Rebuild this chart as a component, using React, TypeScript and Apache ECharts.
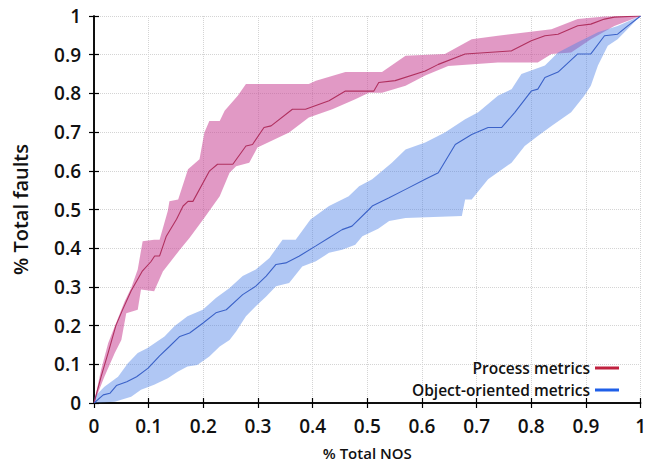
import React, { useEffect, useRef } from "react";
import * as echarts from "echarts";

const processMean: number[][] = [
  [0, 0], [0.013, 0.068], [0.026, 0.13], [0.04, 0.2], [0.052, 0.24], [0.068, 0.29], [0.088, 0.34],
  [0.104, 0.365], [0.111, 0.38], [0.12, 0.38], [0.132, 0.43], [0.151, 0.475], [0.163, 0.509],
  [0.172, 0.521], [0.181, 0.521], [0.211, 0.599], [0.226, 0.617], [0.254, 0.617], [0.278, 0.664],
  [0.29, 0.668], [0.311, 0.712], [0.324, 0.716], [0.363, 0.759], [0.387, 0.759], [0.43, 0.781],
  [0.46, 0.806], [0.512, 0.806], [0.521, 0.828], [0.551, 0.833], [0.606, 0.858], [0.63, 0.875],
  [0.679, 0.902], [0.764, 0.91], [0.8, 0.936], [0.825, 0.949], [0.849, 0.953], [0.885, 0.975],
  [0.909, 0.979], [0.934, 0.992], [0.952, 0.997], [1, 1],
];

const processUpper: number[][] = [
  [0, 0], [0.013, 0.086], [0.026, 0.155], [0.038, 0.198], [0.05, 0.241], [0.056, 0.262], [0.068, 0.297],
  [0.08, 0.345], [0.089, 0.418], [0.11, 0.422], [0.12, 0.422], [0.135, 0.496], [0.138, 0.521],
  [0.154, 0.526], [0.172, 0.604], [0.193, 0.63], [0.202, 0.699], [0.211, 0.729], [0.23, 0.729],
  [0.239, 0.755], [0.263, 0.794], [0.278, 0.824], [0.393, 0.824], [0.406, 0.833], [0.46, 0.855],
  [0.527, 0.855], [0.57, 0.897], [0.642, 0.902], [0.691, 0.94], [0.739, 0.949], [0.837, 0.966],
  [0.885, 0.992], [0.934, 0.999], [1, 1],
];

const processLower: number[][] = [
  [0, 0], [0.019, 0.068], [0.038, 0.129], [0.05, 0.163], [0.059, 0.232], [0.08, 0.241], [0.086, 0.293],
  [0.11, 0.289], [0.126, 0.34], [0.157, 0.396], [0.175, 0.427], [0.202, 0.479], [0.23, 0.534],
  [0.248, 0.595], [0.26, 0.612], [0.284, 0.621], [0.299, 0.66], [0.357, 0.699], [0.393, 0.738],
  [0.436, 0.759], [0.478, 0.785], [0.503, 0.802], [0.527, 0.802], [0.57, 0.82], [0.606, 0.846],
  [0.648, 0.871], [0.739, 0.88], [0.812, 0.88], [0.837, 0.902], [0.873, 0.906], [0.909, 0.94],
  [0.952, 0.974], [1, 1],
];

const ooMean: number[][] = [
  [0, 0], [0.017, 0.021], [0.029, 0.025], [0.041, 0.045], [0.06, 0.055], [0.078, 0.068], [0.099, 0.09],
  [0.12, 0.122], [0.138, 0.146], [0.157, 0.172], [0.175, 0.181], [0.199, 0.206], [0.223, 0.233],
  [0.242, 0.241], [0.272, 0.28], [0.296, 0.302], [0.315, 0.328], [0.333, 0.358], [0.351, 0.362],
  [0.375, 0.379], [0.406, 0.406], [0.43, 0.427], [0.454, 0.448], [0.472, 0.457], [0.503, 0.5],
  [0.509, 0.509], [0.539, 0.53], [0.57, 0.552], [0.606, 0.578], [0.63, 0.595], [0.661, 0.668],
  [0.691, 0.694], [0.721, 0.712], [0.746, 0.712], [0.77, 0.751], [0.8, 0.806], [0.812, 0.811],
  [0.825, 0.841], [0.849, 0.855], [0.885, 0.902], [0.909, 0.902], [0.934, 0.949], [0.958, 0.953],
  [0.976, 0.974], [1, 1],
];

const ooUpper: number[][] = [
  [0, 0], [0.001, 0.016], [0.019, 0.042], [0.044, 0.068], [0.062, 0.103], [0.08, 0.129], [0.098, 0.142],
  [0.129, 0.172], [0.147, 0.198], [0.171, 0.224], [0.199, 0.241], [0.223, 0.271], [0.248, 0.297],
  [0.272, 0.328], [0.296, 0.345], [0.321, 0.375], [0.345, 0.422], [0.369, 0.422], [0.396, 0.474],
  [0.43, 0.509], [0.466, 0.534], [0.485, 0.56], [0.509, 0.578], [0.545, 0.621], [0.57, 0.655],
  [0.606, 0.673], [0.642, 0.699], [0.679, 0.733], [0.703, 0.751], [0.739, 0.794], [0.764, 0.811],
  [0.782, 0.85], [0.825, 0.872], [0.849, 0.906], [0.885, 0.932], [0.922, 0.958], [0.958, 0.974], [1, 1],
];

const ooLower: number[][] = [
  [0, 0], [0.038, 0.003], [0.068, 0.016], [0.086, 0.034], [0.11, 0.047], [0.135, 0.064], [0.153, 0.081],
  [0.171, 0.094], [0.189, 0.098], [0.211, 0.12], [0.23, 0.146], [0.248, 0.163], [0.26, 0.185],
  [0.278, 0.224], [0.296, 0.25], [0.315, 0.275], [0.333, 0.302], [0.357, 0.31], [0.381, 0.353],
  [0.406, 0.366], [0.43, 0.388], [0.454, 0.396], [0.478, 0.409], [0.491, 0.431], [0.52, 0.45],
  [0.54, 0.47], [0.57, 0.478], [0.673, 0.483], [0.679, 0.526], [0.691, 0.526], [0.721, 0.578],
  [0.764, 0.621], [0.788, 0.664], [0.812, 0.69], [0.837, 0.716], [0.873, 0.751], [0.897, 0.794],
  [0.909, 0.82], [0.922, 0.872], [0.94, 0.923], [0.958, 0.94], [0.988, 0.983], [1, 1],
];

const FONT = "'Open Sans', 'Noto Sans', sans-serif";

function bandSeries(upper: number[][], lower: number[][], fill: string, z: number) {
  const poly = [...upper, ...lower.slice().reverse()];
  return {
    type: "custom",
    silent: true,
    z,
    clip: true,
    data: poly,
    encode: { x: 0, y: 1 },
    renderItem: (params: any, api: any) => {
      if (params.dataIndex !== 0) return null;
      const pts = poly.map((p) => api.coord(p));
      return { type: "polygon", shape: { points: pts }, style: { fill, stroke: null } };
    },
  };
}

export default function App() {
  const ref = useRef<HTMLDivElement>(null);
  useEffect(() => {
    const chart = echarts.init(ref.current!, undefined, { renderer: "svg" });
    const axisCommon = {
      type: "value",
      min: 0,
      max: 1,
      interval: 0.1,
      axisLine: { show: true, lineStyle: { color: "#000", width: 1.5 } },
      axisTick: { show: true, inside: true, length: 5, lineStyle: { color: "#000", width: 1.2 } },
    };
    const fmt = (v: number) => String(Math.round(v * 10) / 10);
    const labelStyle = {
      fontFamily: FONT,
      fontSize: 19,
      fontWeight: 600,
      color: "#111",
      margin: 13,
      formatter: fmt,
    };
    const gridLine = { show: true, lineStyle: { color: "#d4d4d4", type: "dotted", width: 1 } };
    chart.setOption({
      animation: false,
      backgroundColor: "#fff",
      grid: { left: 94, right: 6, top: 16, bottom: 62, show: false },
      legend: {
        orient: "vertical",
        right: 25,
        top: 355,
        align: "right",
        icon: "rect",
        itemWidth: 24,
        itemHeight: 3,
        itemGap: 6,
        data: ["Process metrics", "Object-oriented metrics"],
        textStyle: { fontFamily: FONT, fontSize: 15.5, fontWeight: 600, color: "#111" },
      },
      xAxis: [
        {
          ...axisCommon,
          position: "bottom",
          name: "% Total NOS",
          nameLocation: "middle",
          nameGap: 42,
          nameTextStyle: { fontFamily: FONT, fontSize: 15, fontWeight: 600, color: "#111" },
          axisLabel: { ...labelStyle, showMaxLabel: true },
          splitLine: gridLine,
        },
        {
          ...axisCommon,
          position: "top",
          axisLabel: { show: false },
          splitLine: { show: false },
        },
      ],
      yAxis: [
        {
          ...axisCommon,
          position: "left",
          name: "% Total faults",
          nameLocation: "middle",
          nameGap: 64,
          nameTextStyle: { fontFamily: FONT, fontSize: 20, fontWeight: 600, color: "#111" },
          axisLabel: labelStyle,
          splitLine: gridLine,
        },
        {
          ...axisCommon,
          position: "right",
          axisLabel: { show: false },
          splitLine: { show: false },
        },
      ],
      series: [
        bandSeries(processUpper, processLower, "rgba(200,70,150,0.55)", 1),
        bandSeries(ooUpper, ooLower, "rgba(80,130,230,0.45)", 2),
        {
          name: "Process metrics",
          type: "line",
          data: processMean,
          showSymbol: false,
          z: 3,
          itemStyle: { color: "#c0213f" },
          lineStyle: { color: "#b0305f", width: 1.1 },
        },
        {
          name: "Object-oriented metrics",
          type: "line",
          data: ooMean,
          showSymbol: false,
          z: 3,
          itemStyle: { color: "#1f5fe8" },
          lineStyle: { color: "#3b62c8", width: 1.1 },
        },
      ],
    });
    return () => chart.dispose();
  }, []);
  return (
    <div
      ref={ref}
      style={{ position: "fixed", left: 0, top: 0, width: 649, height: 465 }}
    />
  );
}
